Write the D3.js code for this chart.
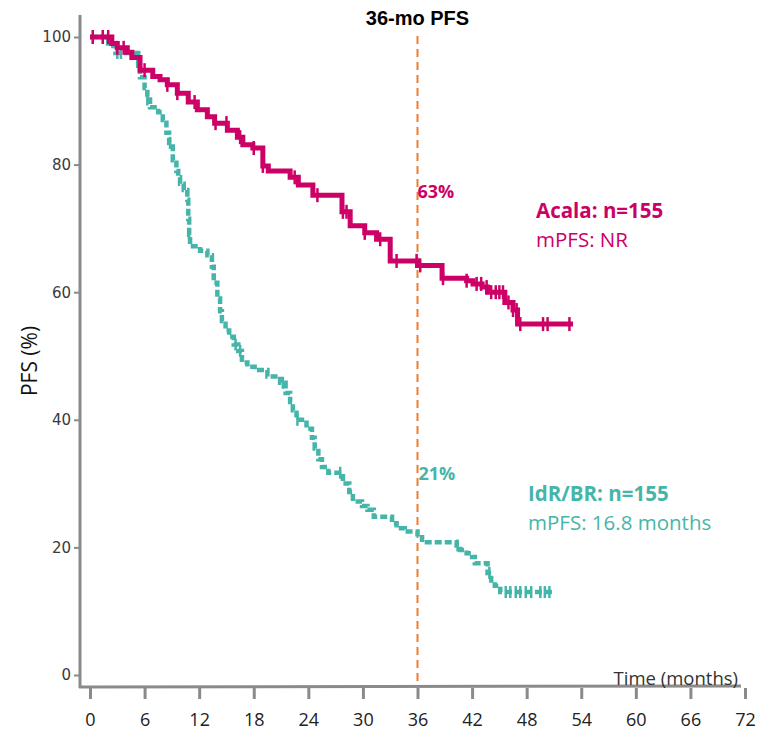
<!DOCTYPE html>
<html>
<head>
<meta charset="utf-8">
<script src="https://cdn.jsdelivr.net/npm/d3@7"></script>
<style>
  body { margin: 0; background: #fff; }
  svg { display: block; }
</style>
</head>
<body>
<div id="chart"></div>
<script>
let width = 760,
  height = 737

// Acala arm: step start times (months) and PFS level (%)
let acalaTimes = [0, 2.4, 3.0, 4.1, 4.6, 5.5, 6.9, 7.7, 8.5, 9.6, 10.8, 11.8, 12.9, 13.7, 15.1, 16.2, 16.8, 17.9, 19.0, 19.6, 22.0, 22.9, 24.5, 27.7, 28.6, 30.2, 31.5, 33.0, 36.0, 38.7, 41.4, 42.1, 43.1, 43.7, 45.6, 46.5, 47.0, 53.1]
let acalaSurv = [100, 99, 98.3, 97.6, 96.8, 94.8, 93.8, 93.3, 92.5, 91.2, 89.8, 88.6, 87.5, 86.5, 85.4, 84.3, 83.1, 82.6, 79.8, 79.0, 78.0, 76.8, 75.2, 72.6, 70.4, 69.3, 68.3, 64.9, 64.2, 62.2, 61.8, 61.3, 60.8, 60.0, 58.4, 57.2, 55.0, 55.0]
let acalaCensor = [0.3, 1.4, 2.0, 3.0, 3.7, 6.0, 8.5, 9.6, 11.5, 13.8, 15.0, 16.5, 18.0, 19.0, 22.5, 25.0, 27.8, 28.2, 30.2, 31.9, 33.7, 35.9, 36.3, 38.8, 41.4, 42.5, 43.0, 43.6, 44.1, 44.6, 45.0, 45.4, 46.0, 46.5, 46.9, 47.3, 49.8, 50.3, 52.7]

// IdR/BR arm
let idrTimes = [0, 2.0, 2.8, 5.3, 5.5, 6.0, 6.3, 6.6, 7.5, 8.0, 8.4, 8.7, 9.1, 9.5, 9.7, 9.9, 10.3, 10.7, 10.8, 10.9, 11.0, 12.1, 12.9, 13.4, 13.6, 14.0, 14.3, 14.5, 14.9, 15.3, 15.8, 16.3, 16.7, 17.3, 18.1, 19.5, 20.9, 21.5, 22.0, 22.3, 22.7, 23.8, 24.4, 24.7, 25.1, 25.5, 26.2, 27.8, 28.5, 28.9, 29.9, 30.5, 31.2, 33.2, 33.7, 34.6, 36.0, 36.5, 40.3, 40.7, 41.4, 42.0, 42.3, 43.7, 44.1, 44.5, 45.1, 50.9]
let idrSurv = [100, 98.6, 97.5, 95.5, 93.7, 92.0, 90.2, 89.0, 88.2, 87.0, 85.0, 83.4, 80.7, 79.0, 78.0, 77.0, 76.0, 74.5, 71.5, 69.0, 67.2, 66.5, 65.8, 64.0, 61.5, 59.0, 57.0, 55.5, 54.0, 53.0, 51.8, 50.8, 49.0, 48.3, 47.8, 46.8, 45.8, 44.2, 42.8, 41.5, 40.0, 38.6, 37.2, 35.5, 33.8, 32.6, 31.7, 30.0, 28.7, 27.2, 26.5, 25.9, 24.8, 23.8, 23.0, 22.5, 21.6, 20.8, 20.3, 19.6, 19.1, 18.5, 17.5, 16.0, 14.8, 14.0, 13.0, 13.0]
let idrCensor = [3.0, 3.4, 6.3, 8.8, 10.9, 16.0, 16.5, 21.2, 22.8, 27.5, 40.4, 43.9, 45.7, 46.2, 46.8, 47.3, 47.9, 48.5, 49.5, 50.0, 50.5]

let xTicks = [0, 6, 12, 18, 24, 30, 36, 42, 48, 54, 60, 66, 72]
let yTicks = [0, 20, 40, 60, 80, 100]

let landmark = 36
let landmarkLabels = ['63%', '21%']

let magenta = '#cc0066',
  teal = '#45b5aa',
  axisGray = '#8a8a8a'

let svg = d3.select('#chart')
  .append('svg')
  .attr('width', width)
  .attr('height', height)

let x = d3.scaleLinear().domain([0, 72]).range([90, 745])
let y = d3.scaleLinear().domain([0, 100]).range([675, 37])

// axis lines (drawn by hand, the y axis sits left of t=0)
svg.append('line')
  .attr('x1', 80).attr('x2', 80)
  .attr('y1', 15).attr('y2', 688)
  .attr('stroke', axisGray).attr('stroke-width', 3)

svg.append('line')
  .attr('x1', 79).attr('x2', 741)
  .attr('y1', 687).attr('y2', 686)
  .attr('stroke', axisGray).attr('stroke-width', 3)

// y axis ticks
let yAxis = svg.append('g')
  .attr('transform', 'translate(80,0)')
  .call(d3.axisLeft(y).tickValues(yTicks).tickSize(6).tickPadding(3))
yAxis.select('.domain').remove()
yAxis.selectAll('line').attr('stroke', axisGray).attr('stroke-width', 2)
yAxis.selectAll('text')
  .attr('fill', '#3a3a3a')
  .style('font-family', '"DejaVu Sans", Verdana, sans-serif')
  .style('font-size', '15px')

// x axis ticks
let xAxis = svg.append('g')
  .attr('transform', 'translate(0,688)')
  .call(d3.axisBottom(x).tickValues(xTicks).tickSize(11).tickPadding(14))
xAxis.select('.domain').remove()
xAxis.selectAll('line').attr('stroke', axisGray).attr('stroke-width', 3)
xAxis.selectAll('text')
  .attr('fill', '#222')
  .style('font-family', '"Liberation Sans Narrow", "Open Sans", sans-serif')
  .style('font-size', '18px')

// axis titles
svg.append('text')
  .attr('transform', 'translate(37,361) rotate(-90)')
  .attr('text-anchor', 'middle')
  .style('font-family', '"Open Sans", sans-serif')
  .style('font-size', '21px')
  .attr('fill', '#111')
  .text('PFS (%)')

svg.append('text')
  .attr('x', 738).attr('y', 685)
  .attr('text-anchor', 'end')
  .style('font-family', '"Liberation Sans Narrow", "Open Sans", sans-serif')
  .style('font-size', '18.5px')
  .attr('fill', '#333')
  .text('Time (months)')

// landmark line at 36 months
svg.append('line')
  .attr('x1', x(landmark)).attr('x2', x(landmark))
  .attr('y1', 36).attr('y2', 686)
  .attr('stroke', '#f07f2c').attr('stroke-width', 2)
  .attr('stroke-dasharray', '8,5')

svg.append('text')
  .attr('x', x(landmark)).attr('y', 25)
  .attr('text-anchor', 'middle')
  .style('font-family', '"Liberation Sans", Arial, sans-serif')
  .style('font-size', '20px')
  .style('font-weight', 'bold')
  .attr('fill', '#000')
  .text('36-mo PFS')

// curves
let line = d3.line()
  .x(d => x(d[0]))
  .y(d => y(d[1]))
  .curve(d3.curveStepAfter)

function survAt(times, surv, t) {
  let v = surv[0]
  for (let i = 0; i < times.length; i++) if (times[i] <= t) v = surv[i]
  return v
}

svg.append('path')
  .datum(idrTimes.map((t, i) => [t, idrSurv[i]]))
  .attr('d', line)
  .attr('fill', 'none')
  .attr('stroke', teal)
  .attr('stroke-width', 4.5)
  .attr('stroke-dasharray', '7,3')

svg.append('g').selectAll('line')
  .data(idrCensor)
  .enter().append('line')
  .attr('x1', d => x(d)).attr('x2', d => x(d))
  .attr('y1', d => y(survAt(idrTimes, idrSurv, d)) - 6)
  .attr('y2', d => y(survAt(idrTimes, idrSurv, d)) + 6)
  .attr('stroke', teal).attr('stroke-width', 2.5)

svg.append('path')
  .datum(acalaTimes.map((t, i) => [t, acalaSurv[i]]))
  .attr('d', line)
  .attr('fill', 'none')
  .attr('stroke', magenta)
  .attr('stroke-width', 5)

svg.append('g').selectAll('line')
  .data(acalaCensor)
  .enter().append('line')
  .attr('x1', d => x(d)).attr('x2', d => x(d))
  .attr('y1', d => y(survAt(acalaTimes, acalaSurv, d)) - 7)
  .attr('y2', d => y(survAt(acalaTimes, acalaSurv, d)) + 7)
  .attr('stroke', magenta).attr('stroke-width', 2.5)

// annotations
let font = '"Open Sans", sans-serif'

svg.append('text')
  .attr('x', x(landmark)).attr('y', 198)
  .style('font-family', font).style('font-size', '18px').style('font-weight', 'bold')
  .attr('fill', magenta)
  .text(landmarkLabels[0])

svg.append('text')
  .attr('x', x(landmark) + 1).attr('y', 480)
  .style('font-family', font).style('font-size', '18px').style('font-weight', 'bold')
  .attr('fill', teal)
  .text(landmarkLabels[1])

svg.append('text')
  .attr('x', 536).attr('y', 218)
  .style('font-family', font).style('font-size', '20.5px').style('font-weight', 'bold')
  .attr('fill', magenta)
  .text('Acala: n=155')

svg.append('text')
  .attr('x', 536).attr('y', 247)
  .style('font-family', font).style('font-size', '20.5px')
  .attr('fill', magenta)
  .text('mPFS: NR')

svg.append('text')
  .attr('x', 528).attr('y', 501)
  .style('font-family', font).style('font-size', '20.5px').style('font-weight', 'bold')
  .attr('fill', teal)
  .text('IdR/BR: n=155')

svg.append('text')
  .attr('x', 528).attr('y', 530)
  .style('font-family', font).style('font-size', '20.5px')
  .attr('fill', teal)
  .text('mPFS: 16.8 months')
</script>
</body>
</html>
